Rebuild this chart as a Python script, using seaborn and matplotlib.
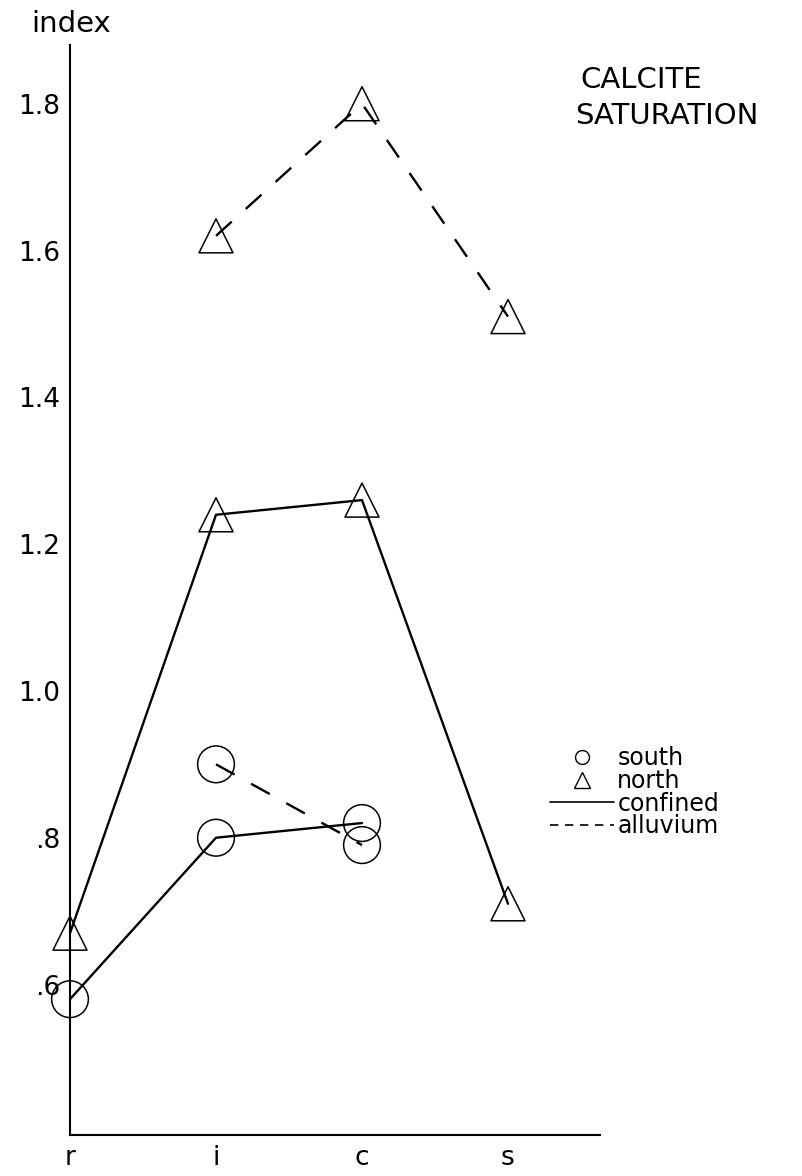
import matplotlib
matplotlib.use("Agg")
import matplotlib.pyplot as plt
from matplotlib.lines import Line2D
import pandas as pd
import seaborn as sns

# Sampling stations along the flow path
sites = ["r", "i", "c", "s"]

# Calcite saturation index per station
north_confined_sites = ["r", "i", "c", "s"]
north_confined = [0.67, 1.24, 1.26, 0.71]

north_alluvium_sites = ["i", "c", "s"]
north_alluvium = [1.62, 1.80, 1.51]

south_confined_sites = ["r", "i", "c"]
south_confined = [0.58, 0.80, 0.82]

south_alluvium_sites = ["i", "c"]
south_alluvium = [0.90, 0.79]

y_ticks = [0.6, 0.8, 1.0, 1.2, 1.4, 1.6, 1.8]
y_tick_labels = [".6", ".8", "1.0", "1.2", "1.4", "1.6", "1.8"]


def frame(region, aquifer, stations, values):
    return pd.DataFrame({
        "region": region,
        "aquifer": aquifer,
        "station": stations,
        "pos": [sites.index(s) for s in stations],
        "index": values,
    })


df = pd.concat([
    frame("north", "confined", north_confined_sites, north_confined),
    frame("north", "alluvium", north_alluvium_sites, north_alluvium),
    frame("south", "confined", south_confined_sites, south_confined),
    frame("south", "alluvium", south_alluvium_sites, south_alluvium),
], ignore_index=True)

sns.set_theme(style="white", rc={"text.color": "black",
                                 "axes.labelcolor": "black",
                                 "xtick.color": "black",
                                 "ytick.color": "black"})
plt.rcParams["font.family"] = ["DejaVu Sans"]

W, H = 802, 1176
fig = plt.figure(figsize=(W / 100, H / 100), dpi=100)
ax_left, ax_right, ax_top, ax_bottom = 70, 600, 45, 1135
ax = fig.add_axes([ax_left / W, (H - ax_bottom) / H,
                   (ax_right - ax_left) / W, (ax_bottom - ax_top) / H])

dash_pattern = {"confined": None, "alluvium": (9, 8)}
markers = {"south": "o", "north": "^"}
marker_sizes = {"south": 700, "north": 600}

for (region, aquifer), grp in df.groupby(["region", "aquifer"], sort=False):
    style = "-" if dash_pattern[aquifer] is None else (0, dash_pattern[aquifer])
    sns.lineplot(data=grp, x="pos", y="index", ax=ax, color="black",
                 linewidth=1.7, legend=False, sort=False, linestyle=style)
    sns.scatterplot(data=grp, x="pos", y="index", ax=ax, marker=markers[region],
                    s=marker_sizes[region], facecolors="none",
                    edgecolor="black", linewidth=1.1, legend=False,
                    zorder=3, clip_on=False)

ax.set_xlim(0, (ax_right - ax_left) / 146)
ax.set_ylim(0.395, 1.88)
ax.set_xticks(range(len(sites)))
ax.set_xticklabels(sites, fontsize=19)
ax.set_yticks(y_ticks)
ax.set_yticklabels(y_tick_labels, fontsize=19)
ax.set_xlabel("")
ax.set_ylabel("")

for side in ["top", "right"]:
    ax.spines[side].set_visible(False)
for side in ["left", "bottom"]:
    ax.spines[side].set_linewidth(1.5)
    ax.spines[side].set_color("black")
ax.tick_params(axis="y", direction="out", length=6, width=1.0, pad=1)
ax.tick_params(axis="x", direction="out", length=7, width=1.2, pad=0)

fig.text(31 / W, 1 - 32 / H, "index", fontsize=21, va="baseline", ha="left")
fig.text(580 / W, 1 - 88 / H, "CALCITE", fontsize=21, va="baseline", ha="left")
fig.text(575 / W, 1 - 124 / H, "SATURATION", fontsize=21, va="baseline", ha="left")

handles = [
    Line2D([], [], marker="o", linestyle="none", markerfacecolor="none",
           markeredgecolor="black", markersize=10, markeredgewidth=1.0),
    Line2D([], [], marker="^", linestyle="none", markerfacecolor="none",
           markeredgecolor="black", markersize=11, markeredgewidth=1.0),
    Line2D([], [], color="black", linewidth=1.2),
    Line2D([], [], color="black", linewidth=1.2, linestyle=(0, (5, 4))),
]
labels = ["south", "north", "confined", "alluvium"]
fig.legend(handles, labels, loc="upper left",
           bbox_to_anchor=(550 / W, 1 - 746 / H), frameon=False,
           fontsize=17, labelspacing=-0.05, handlelength=2.7,
           handletextpad=0.15, borderpad=0, borderaxespad=0)

fig.savefig("out.png", dpi=100, facecolor="white")
